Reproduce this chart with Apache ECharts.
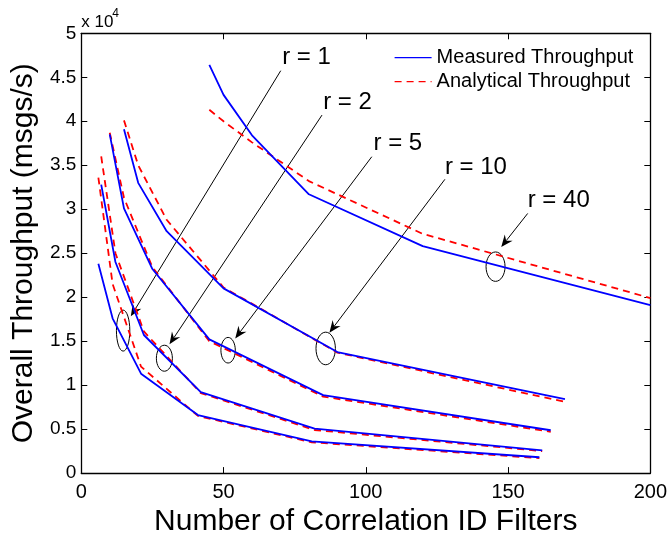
<!DOCTYPE html>
<html><head><meta charset="utf-8">
<script src="https://cdn.jsdelivr.net/npm/echarts@6/dist/echarts.min.js"></script>
<style>html,body{margin:0;padding:0;background:#fff}#c{width:670px;height:542px}</style>
</head><body><div id="c"></div>
<script>
// x positions (number of correlation ID filters) per r
const xR1  = [6, 11, 21, 41, 81, 161];
const xR2  = [7, 12, 22, 42, 82, 162];
const xR5  = [10, 15, 25, 45, 85, 165];
const xR10 = [15, 20, 30, 50, 90, 170];
const xR40 = [45, 50, 60, 80, 120, 200];

// Measured throughput (msgs/s)
const measR1  = [23800, 17600, 11300, 6600, 3600, 1800];
const measR2  = [32800, 24000, 15700, 9200, 5050, 2580];
const measR5  = [38500, 30100, 23200, 15200, 8860, 4870];
const measR10 = [39100, 33000, 27500, 21000, 13760, 8400];
const measR40 = [46400, 43000, 38400, 31700, 25800, 19100];

// Analytical throughput (msgs/s)
const anaR1  = [33600, 21500, 12100, 6500, 3500, 1700];
const anaR2  = [36000, 25000, 16100, 9100, 4900, 2500];
const anaR5  = [38700, 31300, 23400, 15000, 8700, 4700];
const anaR10 = [40100, 35000, 28800, 21100, 13700, 8100];
const anaR40 = [41300, 40000, 37600, 33200, 27200, 19900];

const yTicks = [0, 5000, 10000, 15000, 20000, 25000, 30000, 35000, 40000, 45000, 50000];
const xTicks = [0, 50, 100, 150, 200];

// annotation anchors in data coordinates
const annotations = [
  {label: 'r = 1',  text: [70.6, 47290],  from: [70.1, 45750],  to: [17.4, 17820],  ell: [14.7, 16200], rx: 6.7, ry: 20.5},
  {label: 'r = 2',  text: [85.0, 42140],  from: [84.6, 40700],  to: [31.0, 14640],  ell: [29.2, 13060], rx: 8,   ry: 13},
  {label: 'r = 5',  text: [102.7, 37450], from: [102.1, 35970], to: [54.1, 15310],  ell: [51.6, 13970], rx: 7.2, ry: 12.8},
  {label: 'r = 10', text: [127.8, 34810], from: [127.8, 33400], to: [87.2, 15970],  ell: [85.9, 14170], rx: 9.7, ry: 16.3},
  {label: 'r = 40', text: [156.9, 30960], from: [156.9, 29520], to: [147.6, 25710], ell: [145.6, 23470], rx: 9.5, ry: 14.7}
];

const zip = (xs, ys) => xs.map((x, i) => [x, ys[i]]);
const groups = [
  [xR1, measR1, anaR1], [xR2, measR2, anaR2], [xR5, measR5, anaR5],
  [xR10, measR10, anaR10], [xR40, measR40, anaR40]
];

const FONT = 'Liberation Sans, Arial, Helvetica, sans-serif';
const series = [];
groups.forEach(g => {
  series.push({
    name: 'Analytical Throughput', type: 'line', data: zip(g[0], g[2]),
    symbol: 'none', silent: true, z: 2,
    lineStyle: {color: '#ff0000', width: 1.8, type: [7, 5]}, itemStyle: {color: '#ff0000'}
  });
  series.push({
    name: 'Measured Throughput', type: 'line', data: zip(g[0], g[1]),
    symbol: 'none', silent: true, z: 3,
    lineStyle: {color: '#0000ff', width: 1.8}, itemStyle: {color: '#0000ff'}
  });
});

const axisCommonX = {
  type: 'value', min: xTicks[0], max: xTicks[xTicks.length - 1], interval: 50,
  axisLine: {show: true, onZero: false, lineStyle: {color: '#000', width: 1.3}},
  axisTick: {show: true, inside: true, length: 6, lineStyle: {color: '#000', width: 1}},
  splitLine: {show: false}
};
const axisCommonY = {
  type: 'value', min: yTicks[0], max: yTicks[yTicks.length - 1], interval: 5000,
  axisLine: {show: true, onZero: false, lineStyle: {color: '#000', width: 1.3}},
  axisTick: {show: true, inside: true, length: 6, lineStyle: {color: '#000', width: 1}},
  splitLine: {show: false}
};

const chart = echarts.init(document.getElementById('c'), null, {renderer: 'canvas'});
chart.setOption({
  animation: false,
  backgroundColor: '#fff',
  grid: {left: 81.3, right: 16.7, top: 33.3, bottom: 57, containLabel: false},
  legend: {
    orient: 'vertical', left: 394, top: 47.7, padding: 0,
    itemWidth: 37, itemHeight: 20, itemGap: 4,
    data: ['Measured Throughput', 'Analytical Throughput'],
    textStyle: {fontFamily: FONT, fontSize: 20, color: '#000', lineHeight: 20},
    itemStyle: {opacity: 0},
    lineStyle: {width: 1.2}
  },
  xAxis: [
    Object.assign({}, axisCommonX, {
      position: 'bottom',
      name: 'Number of Correlation ID Filters', nameLocation: 'middle', nameGap: 21,
      nameTextStyle: {fontFamily: FONT, fontSize: 30, color: '#000'},
      axisLabel: {show: true, margin: 9, color: '#000', fontFamily: FONT, fontSize: 20}
    }),
    Object.assign({}, axisCommonX, {position: 'top', axisLabel: {show: false}})
  ],
  yAxis: [
    Object.assign({}, axisCommonY, {
      position: 'left',
      name: 'Overall Throughput (msgs/s)', nameLocation: 'middle', nameGap: 37,
      nameTextStyle: {fontFamily: FONT, fontSize: 30, color: '#000'},
      axisLabel: {show: true, margin: 5, color: '#000', fontFamily: FONT, fontSize: 19,
        formatter: v => String(v / 10000)}
    }),
    Object.assign({}, axisCommonY, {position: 'right', axisLabel: {show: false}})
  ],
  series: series
});

// annotations: labels, arrows, ellipses
const gfx = [];
const px = p => chart.convertToPixel({xAxisIndex: 0, yAxisIndex: 0}, p);
annotations.forEach(a => {
  const t = px(a.text), f = px(a.from), to = px(a.to), e = px(a.ell);
  gfx.push({type: 'text', x: t[0], y: t[1], silent: true,
    style: {text: a.label, fontFamily: FONT, fontSize: 24, fill: '#000', textAlign: 'left', textVerticalAlign: 'middle'}});
  const dx = to[0] - f[0], dy = to[1] - f[1];
  const len = Math.sqrt(dx * dx + dy * dy);
  const ux = dx / len, uy = dy / len, nx = -uy, ny = ux;
  const L = 12, W = 5, N = 8;
  const bx = to[0] - ux * L, by = to[1] - uy * L;
  const mx = to[0] - ux * N, my = to[1] - uy * N;
  gfx.push({type: 'line', silent: true, shape: {x1: f[0], y1: f[1], x2: mx, y2: my},
    style: {stroke: '#000', lineWidth: 1}});
  gfx.push({type: 'polygon', silent: true,
    shape: {points: [[to[0], to[1]], [bx + nx * W, by + ny * W], [mx, my], [bx - nx * W, by - ny * W]]},
    style: {fill: '#000'}});
  gfx.push({type: 'ellipse', silent: true, shape: {cx: e[0], cy: e[1], rx: a.rx, ry: a.ry},
    style: {fill: 'none', stroke: '#000', lineWidth: 1}});
});
// exponent marker
const corner = px([xTicks[0], yTicks[yTicks.length - 1]]);
gfx.push({type: 'text', x: corner[0], y: corner[1] - 11, silent: true,
  style: {text: 'x 10', fontFamily: FONT, fontSize: 17, fill: '#000', textAlign: 'left', textVerticalAlign: 'middle'}});
gfx.push({type: 'text', x: corner[0] + 31, y: corner[1] - 19.5, silent: true,
  style: {text: '4', fontFamily: FONT, fontSize: 12, fill: '#000', textAlign: 'left', textVerticalAlign: 'middle'}});
chart.setOption({graphic: gfx});
</script>
</body></html>
